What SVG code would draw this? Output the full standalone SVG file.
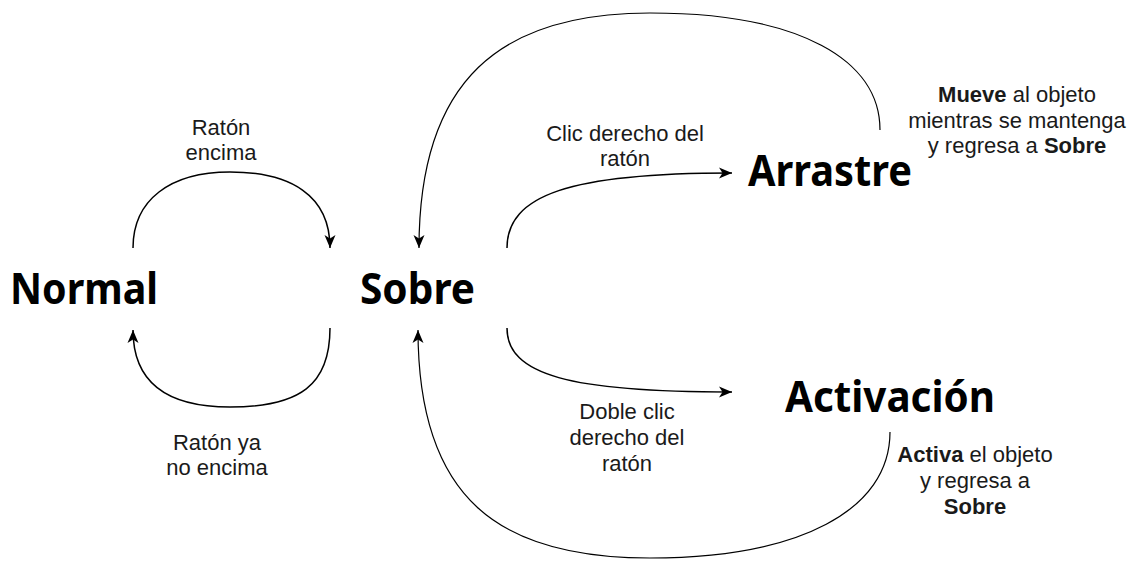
<svg xmlns="http://www.w3.org/2000/svg" width="1141" height="563" viewBox="0 0 1141 563">
<style>
.node{font-family:"Noto Sans","DejaVu Sans",sans-serif;font-weight:bold;font-size:43px;fill:#000}
.lbl{font-family:"Liberation Sans",Arial,sans-serif;font-size:22px;fill:#1a1a1a;text-anchor:middle}
.b{font-weight:bold}
.edge{fill:none;stroke:#000;stroke-width:1.5}
.thin{stroke-width:1.2}
</style>
<defs>
<marker id="arr" viewBox="-14 -7 15 14" refX="0" refY="0" markerWidth="15" markerHeight="14" markerUnits="userSpaceOnUse" orient="auto">
<path d="M0,0 L-13,-5.5 L-9.5,0 L-13,5.5 Z" fill="#000"/>
</marker>
</defs>
<rect width="1141" height="563" fill="#fff"/>
<g id="connectors">
<path id="e-normal-sobre" class="edge" d="M133,248 C133,200 170,172 230,172 C290,172 330,195 330,248" marker-end="url(#arr)"/>
<path id="e-sobre-normal" class="edge" d="M330,328 C330,385 300,407 230,407 C170,407 133,385 133,330" marker-end="url(#arr)"/>
<path id="e-sobre-arrastre" class="edge" d="M507,248 C507,195 570,173 732,173" marker-end="url(#arr)"/>
<path id="e-sobre-activacion" class="edge" d="M507,328 C507,375 570,392 732,392" marker-end="url(#arr)"/>
<path id="e-arrastre-sobre" class="edge thin" d="M880,130 C880,60 800,13 650,13 C500,13 419,80 419,248" marker-end="url(#arr)"/>
<path id="e-activacion-sobre" class="edge thin" d="M890,432 C890,510 800,558 650,558 C500,558 418,500 418,330" marker-end="url(#arr)"/>
</g>
<g id="labels">
<text class="lbl"><tspan x="221" y="135">Ratón</tspan><tspan x="221" y="160">encima</tspan></text>
<text class="lbl"><tspan x="217" y="450">Ratón ya</tspan><tspan x="217" y="475">no encima</tspan></text>
<text class="lbl"><tspan x="625" y="141">Clic derecho del</tspan><tspan x="625" y="166">ratón</tspan></text>
<text class="lbl"><tspan x="627" y="419">Doble clic</tspan><tspan x="627" y="445">derecho del</tspan><tspan x="627" y="471">ratón</tspan></text>
</g>
<g id="node-normal"><text class="node" x="10" y="304" textLength="148" lengthAdjust="spacingAndGlyphs">Normal</text></g>
<g id="node-sobre"><text class="node" x="360" y="304" textLength="115" lengthAdjust="spacingAndGlyphs">Sobre</text></g>
<g id="node-arrastre"><text class="node" x="748" y="186" textLength="164" lengthAdjust="spacingAndGlyphs">Arrastre</text></g>
<g id="node-activacion"><text class="node" x="785" y="412" textLength="210" lengthAdjust="spacingAndGlyphs">Activación</text></g>
<g id="note-arrastre">
<text class="lbl"><tspan x="1017" y="102"><tspan class="b">Mueve</tspan> al objeto</tspan><tspan x="1017" y="127.5">mientras se mantenga</tspan><tspan x="1017" y="153">y regresa a <tspan class="b">Sobre</tspan></tspan></text>
</g>
<g id="note-activacion">
<text class="lbl"><tspan x="975" y="462"><tspan class="b">Activa</tspan> el objeto</tspan><tspan x="975" y="488">y regresa a</tspan><tspan x="975" y="514" class="b">Sobre</tspan></text>
</g>
</svg>
